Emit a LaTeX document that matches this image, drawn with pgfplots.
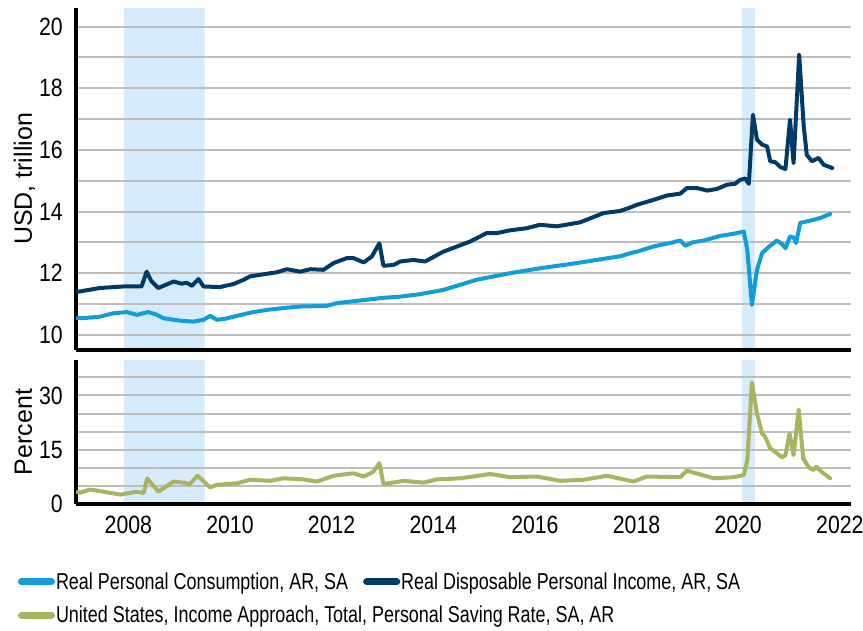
\documentclass[border=0pt]{standalone}
\usepackage{pgfplots}
\pgfplotsset{compat=1.18}
\usepackage{fontspec}
\setmainfont{Liberation Sans}
\newfontfamily\narrowT{Liberation Sans}[FakeStretch=0.85]
\newfontfamily\narrowL{Liberation Sans}[FakeStretch=0.78]
\definecolor{cons}{RGB}{16,157,220}
\definecolor{inc}{RGB}{0,58,105}
\definecolor{sav}{RGB}{168,180,94}
\definecolor{rec}{RGB}{214,235,252}
\definecolor{gridc}{RGB}{190,190,190}

\pgfplotstableread{
x y
2007.00 10.54
2007.25 10.56
2007.44 10.59
2007.70 10.70
2007.97 10.74
2008.17 10.65
2008.39 10.74
2008.55 10.66
2008.69 10.54
2009.02 10.46
2009.28 10.43
2009.48 10.49
2009.61 10.62
2009.74 10.49
2009.90 10.52
2010.07 10.59
2010.40 10.72
2010.72 10.81
2011.05 10.87
2011.38 10.92
2011.90 10.94
2012.10 11.03
2012.69 11.14
2013.00 11.20
2013.35 11.24
2013.74 11.32
2014.20 11.46
2014.86 11.79
2015.51 12.00
2016.10 12.16
2016.83 12.33
2017.48 12.50
2017.68 12.55
2017.88 12.65
2018.01 12.70
2018.34 12.87
2018.66 12.98
2018.86 13.06
2018.96 12.89
2019.10 13.00
2019.32 13.06
2019.65 13.21
2019.91 13.28
2020.11 13.35
2020.18 12.76
2020.27 10.97
2020.37 12.11
2020.47 12.65
2020.57 12.81
2020.76 13.06
2020.86 12.95
2020.93 12.81
2021.02 13.19
2021.09 13.16
2021.14 12.98
2021.22 13.63
2021.35 13.68
2021.48 13.73
2021.61 13.79
2021.81 13.92
}\consdata

\pgfplotstableread{
x y
2007.00 11.40
2007.05 11.41
2007.44 11.52
2007.90 11.57
2008.26 11.57
2008.36 12.05
2008.45 11.75
2008.59 11.52
2008.89 11.73
2009.05 11.66
2009.15 11.69
2009.25 11.59
2009.38 11.81
2009.48 11.57
2009.80 11.55
2010.07 11.65
2010.26 11.78
2010.40 11.90
2010.72 11.98
2010.92 12.03
2011.12 12.13
2011.38 12.05
2011.58 12.13
2011.84 12.11
2012.04 12.33
2012.30 12.49
2012.43 12.49
2012.63 12.35
2012.79 12.54
2012.94 12.97
2013.02 12.24
2013.22 12.27
2013.35 12.38
2013.61 12.43
2013.84 12.38
2014.20 12.70
2014.73 13.03
2015.05 13.30
2015.25 13.30
2015.51 13.39
2015.84 13.46
2016.10 13.57
2016.43 13.52
2016.89 13.65
2017.35 13.95
2017.68 14.02
2017.84 14.11
2018.01 14.22
2018.34 14.38
2018.60 14.52
2018.86 14.58
2018.99 14.76
2019.19 14.76
2019.39 14.68
2019.58 14.73
2019.78 14.87
2019.94 14.90
2020.04 15.03
2020.14 15.07
2020.21 14.90
2020.29 17.14
2020.37 16.33
2020.47 16.17
2020.57 16.11
2020.63 15.63
2020.73 15.60
2020.83 15.44
2020.93 15.38
2021.02 16.98
2021.09 15.57
2021.20 19.09
2021.29 16.76
2021.35 15.84
2021.45 15.63
2021.58 15.74
2021.68 15.52
2021.85 15.41
}\incdata

\pgfplotstableread{
x y
2007.00 3.3
2007.05 3.1
2007.25 4.0
2007.51 3.4
2007.84 2.6
2008.17 3.4
2008.30 3.0
2008.37 7.1
2008.59 3.4
2008.89 6.2
2009.08 5.9
2009.21 5.5
2009.36 7.8
2009.61 4.6
2009.74 5.3
2010.13 5.7
2010.40 6.7
2010.79 6.4
2011.05 7.1
2011.44 6.8
2011.71 6.2
2012.04 7.8
2012.43 8.5
2012.63 7.6
2012.82 8.9
2012.94 11.3
2013.02 5.5
2013.42 6.4
2013.81 5.9
2014.07 6.8
2014.53 7.1
2014.79 7.6
2015.12 8.3
2015.51 7.4
2016.04 7.6
2016.50 6.4
2016.96 6.7
2017.42 7.8
2017.94 6.2
2018.20 7.6
2018.86 7.4
2018.99 9.2
2019.12 8.7
2019.52 7.1
2019.91 7.4
2020.11 8.0
2020.18 12.1
2020.27 33.6
2020.37 25.0
2020.47 19.5
2020.53 18.6
2020.63 15.4
2020.73 14.4
2020.86 12.9
2020.93 13.5
2021.01 19.5
2021.09 13.5
2021.19 26.1
2021.28 12.6
2021.39 10.1
2021.48 9.4
2021.54 10.3
2021.64 8.9
2021.81 7.1
}\savdata

\pgfplotsset{
  /pgf/number format/.cd, 1000 sep={}, assume math mode=true,
  /pgfplots/.cd,
  base/.style={
    set layers,
    scale only axis, width=775pt,
    xmin=2006.97, xmax=2022.22,
    axis x line*=bottom, axis y line*=left,
    axis line style={-, line width=4pt, black},
    major tick length=0pt,
    ymajorgrids, xmajorgrids=false,
    major grid style={gridc, line width=2pt},
    yticklabel style={font=\narrowT\fontsize{25}{27}\selectfont, inner sep=0pt, xshift=-13pt, anchor=east},
    xticklabel style={font=\narrowT\fontsize{25}{27}\selectfont, inner sep=0pt, yshift=-11.5pt, anchor=north},
    ylabel style={font=\fontsize{25}{30}\selectfont, at={(axis description cs:-0.057,0.5)}, anchor=base},
    legend style={draw=none, fill=none, inner sep=0pt, outer sep=0pt, anchor=west,
      font=\narrowL\fontsize{23}{26}\selectfont,
      nodes={inner xsep=1pt, inner ysep=0pt},
      /tikz/every even column/.append style={column sep=14pt}},
    legend cell align=left,
    legend image code/.code={\draw[line width=7pt] (0pt,0pt) -- (30pt,0pt);},
  },
  dataline/.style={line width=4pt, line join=round, line cap=round},
}

\begin{document}
\begin{tikzpicture}
\begin{axis}[base,
  at={(76pt,280pt)}, anchor=south west, height=342pt,
  ymin=9.51, ymax=20.6,
  ytick={10,11,...,20}, yticklabels={10,,12,,14,,16,,18,,20},
  xtick={2008,2010,...,2022}, xticklabels={},
  ylabel={USD, trillion},
  legend columns=2,
  legend style={at={(axis description cs:-0.0748,-0.678)}},
]
\addplot[fill=rec, draw=none, on layer=axis background, forget plot] coordinates {(2007.917,9.51) (2007.917,20.6) (2009.5,20.6) (2009.5,9.51) (2007.917,9.51)};
\addplot[fill=rec, draw=none, on layer=axis background, forget plot] coordinates {(2020.08,9.51) (2020.08,20.6) (2020.33,20.6) (2020.33,9.51) (2020.08,9.51)};
\addplot[dataline, cons] table[x=x, y=y] {\consdata};
\addlegendentry{Real Personal Consumption, AR, SA}
\addplot[dataline, inc] table[x=x, y=y] {\incdata};
\addlegendentry{Real Disposable Personal Income, AR, SA}
\end{axis}

\begin{axis}[base,
  at={(76pt,126pt)}, anchor=south west, height=144pt,
  ymin=0, ymax=39.8,
  ytick={0,5,...,35}, yticklabels={0,,,15,,,30,},
  xtick={2008,2010,...,2022},
  ylabel={Percent},
  legend columns=1,
  legend style={at={(axis description cs:-0.0748,-0.771)}},
]
\addplot[fill=rec, draw=none, on layer=axis background, forget plot] coordinates {(2007.917,0) (2007.917,39.8) (2009.5,39.8) (2009.5,0) (2007.917,0)};
\addplot[fill=rec, draw=none, on layer=axis background, forget plot] coordinates {(2020.08,0) (2020.08,39.8) (2020.33,39.8) (2020.33,0) (2020.08,0)};
\addplot[dataline, sav] table[x=x, y=y] {\savdata};
\addlegendentry{United States, Income Approach, Total, Personal Saving Rate, SA, AR}
\end{axis}
\pgfresetboundingbox
\path[use as bounding box] (0,0) rectangle (863pt,630pt);
\end{tikzpicture}
\end{document}
